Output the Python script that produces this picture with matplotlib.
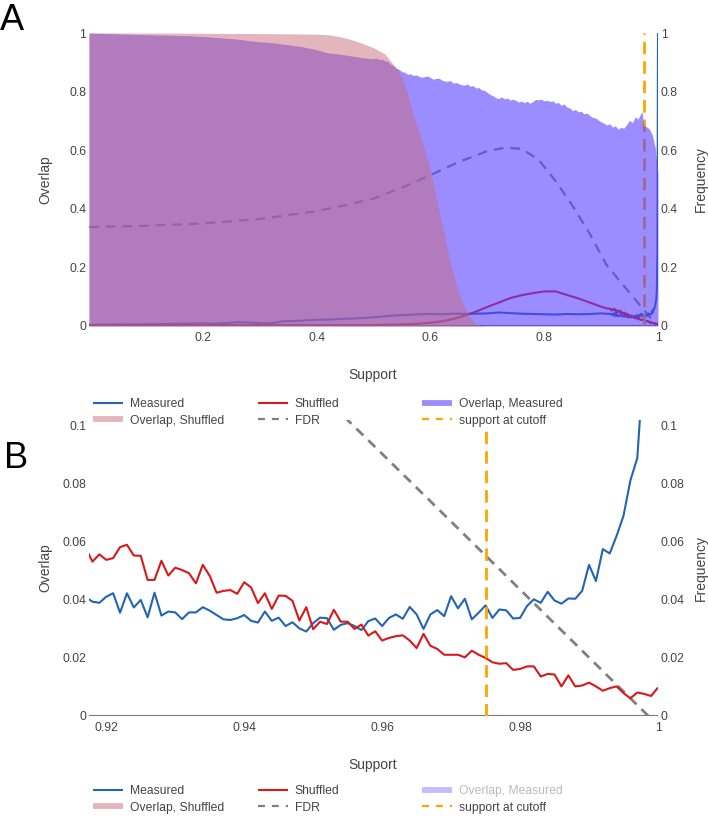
import numpy as np
import matplotlib
matplotlib.use("Agg")
import matplotlib.pyplot as plt
from matplotlib.lines import Line2D

W, H = 708, 818  # output size in pixels (dpi 100)

# ── Colours ────────────────────────────────────────────────────────────────────
C_MEAS = "#2364b4"
C_SHUF = "#d7191c"
C_FDR = "#808080"
C_CUT = "#ffa500"
C_OVM = (88 / 255, 63 / 255, 1.0, 0.6)       # Overlap, Measured fill
C_OVS = (200 / 255, 108 / 255, 125 / 255, 0.5)  # Overlap, Shuffled fill
TXT = "#444444"

# ── Data ───────────────────────────────────────────────────────────────────────
CUTOFF = 0.975

# coarse part of the overlap curves (support 0 .. 0.91)
support_coarse = [round(0.02 * i, 2) for i in range(46)] + [0.91]
measured_coarse = [
    0.004, 0.005, 0.005, 0.006, 0.005, 0.006, 0.006, 0.007, 0.008, 0.008,
    0.009, 0.008, 0.010, 0.013, 0.012, 0.010, 0.009, 0.016, 0.017, 0.019,
    0.021, 0.022, 0.024, 0.025, 0.027, 0.030, 0.033, 0.036, 0.038, 0.040,
    0.041, 0.040, 0.042, 0.041, 0.042, 0.043, 0.046, 0.044, 0.042, 0.041,
    0.040, 0.039, 0.041, 0.040, 0.041, 0.043, 0.042,
]
shuffled_coarse = [
    0.003, 0.003, 0.003, 0.003, 0.003, 0.003, 0.003, 0.003, 0.003, 0.003,
    0.003, 0.003, 0.003, 0.003, 0.003, 0.003, 0.003, 0.003, 0.003, 0.003,
    0.003, 0.003, 0.003, 0.003, 0.003, 0.003, 0.004, 0.005, 0.006, 0.008,
    0.011, 0.016, 0.024, 0.035, 0.049, 0.065, 0.080, 0.095, 0.105, 0.112,
    0.118, 0.118, 0.106, 0.094, 0.080, 0.066, 0.060,
]

# fine part (support 0.917 .. 1.000, step 0.001)
support_fine = [round(0.917 + 0.001 * i, 3) for i in range(84)]
measured_fine = [
    0.0410,
    0.0394, 0.0390, 0.0411, 0.0423, 0.0356, 0.0423, 0.0374, 0.0400, 0.0340, 0.0425,
    0.0346, 0.0360, 0.0357, 0.0334, 0.0357, 0.0357, 0.0375, 0.0363, 0.0348, 0.0333,
    0.0331, 0.0337, 0.0348, 0.0328, 0.0322, 0.0360, 0.0328, 0.0339, 0.0310, 0.0323,
    0.0302, 0.0291, 0.0320, 0.0339, 0.0337, 0.0297, 0.0314, 0.0320, 0.0310, 0.0296,
    0.0327, 0.0336, 0.0310, 0.0338, 0.0350, 0.0335, 0.0376, 0.0350, 0.0300, 0.0350,
    0.0365, 0.0344, 0.0413, 0.0371, 0.0404, 0.0333, 0.0356, 0.0381, 0.0338, 0.0367,
    0.0364, 0.0336, 0.0338, 0.0379, 0.0402, 0.0390, 0.0428, 0.0398, 0.0387, 0.0405,
    0.0404, 0.0431, 0.0521, 0.0465, 0.0575, 0.0560, 0.0621, 0.0690, 0.0812, 0.0889,
    0.1250, 0.2500, 1.0000,
]
shuffled_fine = [
    0.0580,
    0.0532, 0.0557, 0.0538, 0.0544, 0.0582, 0.0590, 0.0553, 0.0552, 0.0469, 0.0469,
    0.0535, 0.0484, 0.0511, 0.0503, 0.0492, 0.0457, 0.0521, 0.0483, 0.0425, 0.0431,
    0.0434, 0.0421, 0.0461, 0.0443, 0.0389, 0.0423, 0.0369, 0.0415, 0.0414, 0.0397,
    0.0329, 0.0375, 0.0299, 0.0325, 0.0317, 0.0366, 0.0325, 0.0325, 0.0300, 0.0315,
    0.0277, 0.0292, 0.0260, 0.0269, 0.0275, 0.0278, 0.0260, 0.0234, 0.0283, 0.0242,
    0.0231, 0.0211, 0.0211, 0.0211, 0.0202, 0.0225, 0.0211, 0.0200, 0.0185, 0.0180,
    0.0182, 0.0159, 0.0162, 0.0171, 0.0171, 0.0136, 0.0145, 0.0143, 0.0102, 0.0140,
    0.0102, 0.0105, 0.0115, 0.0102, 0.0087, 0.0096, 0.0102, 0.0079, 0.0061, 0.0081,
    0.0076, 0.0069, 0.0098,
]

support = support_coarse + support_fine
measured = measured_coarse + measured_fine
shuffled = shuffled_coarse + shuffled_fine

# false discovery rate
fdr_support = [0.0, 0.1, 0.2, 0.3, 0.4, 0.45, 0.5, 0.55, 0.6, 0.65, 0.7,
               0.73, 0.76, 0.79, 0.82, 0.85, 0.88, 0.91, 0.94, 0.97, 0.9986]
fdr = [0.338, 0.342, 0.350, 0.365, 0.392, 0.412, 0.435, 0.472, 0.515, 0.560, 0.597,
       0.608, 0.605, 0.568, 0.495, 0.410, 0.315, 0.207, 0.137, 0.067, 0.0]

# frequency of overlap (fills, right axis)
ovm_support = ([round(0.01 * i, 2) for i in range(50)]
               + [round(0.5 + 0.005 * i, 3) for i in range(94)]
               + [0.970, 0.972, 0.975, 0.980, 0.985, 0.990, 0.995, 0.998, 1.0])
overlap_measured = [
    # 0.00 .. 0.49
    1.000, 0.999, 0.999, 0.998, 0.998, 0.997, 0.996, 0.996, 0.995, 0.995,
    0.994, 0.994, 0.993, 0.993, 0.992, 0.992, 0.991, 0.991, 0.990, 0.989,
    0.988, 0.987, 0.985, 0.984, 0.982, 0.981, 0.979, 0.977, 0.974, 0.972,
    0.970, 0.969, 0.967, 0.965, 0.962, 0.960, 0.957, 0.955, 0.951, 0.947,
    0.943, 0.937, 0.932, 0.930, 0.928, 0.925, 0.922, 0.919, 0.916, 0.914,
    # 0.500 .. 0.965 (step 0.005)
    0.912, 0.915, 0.909, 0.911, 0.905, 0.903, 0.893, 0.889, 0.880, 0.876,
    0.868, 0.866, 0.859, 0.861, 0.855, 0.857, 0.852, 0.849, 0.851, 0.853,
    0.848, 0.842, 0.845, 0.846, 0.839, 0.836, 0.835, 0.838, 0.829, 0.831,
    0.827, 0.823, 0.822, 0.826, 0.818, 0.820, 0.812, 0.814, 0.806, 0.804,
    0.797, 0.790, 0.786, 0.779, 0.776, 0.782, 0.775, 0.778, 0.771, 0.774,
    0.770, 0.764, 0.768, 0.762, 0.767, 0.760, 0.766, 0.773, 0.772, 0.774,
    0.768, 0.771, 0.766, 0.769, 0.760, 0.763, 0.753, 0.758, 0.747, 0.744,
    0.735, 0.739, 0.731, 0.733, 0.724, 0.727, 0.718, 0.712, 0.710, 0.703,
    0.697, 0.692, 0.686, 0.690, 0.679, 0.683, 0.672, 0.678, 0.675, 0.688,
    0.702, 0.694, 0.714, 0.706,
    # 0.970 .. 1.000
    0.726, 0.730, 0.684, 0.680, 0.672, 0.652, 0.610, 0.550, 0.520,
]
ovs_support = [0.0, 0.1, 0.2, 0.3, 0.36, 0.40, 0.42, 0.44, 0.46, 0.48, 0.50,
               0.52, 0.54, 0.55, 0.56, 0.57, 0.58, 0.59, 0.60, 0.61, 0.62,
               0.63, 0.64, 0.65, 0.66, 0.67, 0.68, 0.69, 0.70, 1.0]
overlap_shuffled = [1.0, 1.0, 0.999, 0.998, 0.997, 0.996, 0.994, 0.988, 0.978, 0.965,
                    0.950, 0.928, 0.880, 0.850, 0.790, 0.720, 0.660, 0.600, 0.530,
                    0.440, 0.350, 0.260, 0.180, 0.110, 0.065, 0.030, 0.006, 0.001,
                    0.0, 0.0]

A_XTICKS = [0.2, 0.4, 0.6, 0.8, 1.0]
A_XLABELS = ["0.2", "0.4", "0.6", "0.8", "1"]
A_YTICKS = [0, 0.2, 0.4, 0.6, 0.8, 1.0]
A_YLABELS = ["0", "0.2", "0.4", "0.6", "0.8", "1"]
B_XTICKS = [0.92, 0.94, 0.96, 0.98, 1.0]
B_XLABELS = ["0.92", "0.94", "0.96", "0.98", "1"]
B_YTICKS = [0, 0.02, 0.04, 0.06, 0.08, 0.1]
B_YLABELS = ["0", "0.02", "0.04", "0.06", "0.08", "0.1"]

# ── Style ──────────────────────────────────────────────────────────────────────
plt.rcParams.update({
    "font.family": ["Liberation Sans", "DejaVu Sans"],
    "lines.scale_dashes": False,
    "lines.solid_capstyle": "butt",
})
FS_TICK = 8.7
FS_TITLE = 10
DASH_FDR = (0, (7, 5))
DASH_CUT = (0, (9, 5))


def fx(px):
    return px / W


def fy(py):
    return 1 - py / H


def style_axes(ax, ax2, xticks, xlabels, yticks, ylabels):
    for a in (ax, ax2):
        for s in a.spines.values():
            s.set_visible(False)
        a.set_yticks(yticks)
        a.set_yticklabels(ylabels)
    ax.set_xticks(xticks)
    ax.set_xticklabels(xlabels)
    ax.tick_params(axis="x", length=0, pad=4, labelsize=FS_TICK, labelcolor=TXT)
    ax.tick_params(axis="y", length=0, pad=2, labelsize=FS_TICK, labelcolor=TXT)
    ax2.tick_params(axis="y", length=0, pad=2, labelsize=FS_TICK, labelcolor=TXT)
    ax2.set_ylim(ax.get_ylim())
    ax.axhline(0, color="#777777", lw=1.5, zorder=0)


def column_legend(handles, labels, x_px, y_px):
    return fig.legend(
        handles, labels, loc="upper left",
        bbox_to_anchor=(fx(x_px), fy(y_px)),
        frameon=False, borderpad=0, borderaxespad=0,
        handlelength=2.5, handletextpad=0.55, labelspacing=0.38,
        fontsize=FS_TICK, labelcolor=TXT,
    )


fig = plt.figure(figsize=(W / 100, H / 100), dpi=100)

# ── Panel A ────────────────────────────────────────────────────────────────────
axA = fig.add_axes([fx(89), fy(326), fx(658) - fx(89), fy(33) - fy(326)])
axA.set_xlim(0, 1)
axA.set_ylim(0, 1)
axA2 = axA.twinx()
axA2.set_ylim(0, 1)

axA.plot(fdr_support, fdr, color=C_FDR, lw=1.6, linestyle=DASH_FDR)
axA.plot(support, measured, color=C_MEAS, lw=1.5)
axA.plot(support, shuffled, color=C_SHUF, lw=1.5)
axA.plot([CUTOFF, CUTOFF], [0, 1], color=C_CUT, lw=2, linestyle=DASH_CUT)

# fills sit on the twin axis, drawn above the lines
axA2.fill_between(ovm_support, 0, overlap_measured, color=C_OVM, lw=0)
axA2.fill_between(ovs_support, 0, overlap_shuffled, color=C_OVS, lw=0)

style_axes(axA, axA2, A_XTICKS, A_XLABELS, A_YTICKS, A_YLABELS)

# ── Panel B ────────────────────────────────────────────────────────────────────
axB = fig.add_axes([fx(89), fy(716), fx(658) - fx(89), fy(420) - fy(716)])
axB.set_xlim(0.9175, 1.0)
axB.set_ylim(0, 0.102)
axB2 = axB.twinx()

axB.plot(fdr_support, fdr, color=C_FDR, lw=2, linestyle=DASH_FDR)
axB.plot(support, measured, color=C_MEAS, lw=1.5)
axB.plot(support, shuffled, color=C_SHUF, lw=1.5)
axB.plot([CUTOFF, CUTOFF], [0, 0.1], color=C_CUT, lw=2, linestyle=DASH_CUT)
axB2.fill_between(ovs_support, 0, overlap_shuffled, color=C_OVS, lw=0)

style_axes(axB, axB2, B_XTICKS, B_XLABELS, B_YTICKS, B_YLABELS)
axB2.set_ylim(0, 0.102)

# ── Axis titles & panel letters ────────────────────────────────────────────────
for top, bottom, sup_y in [(33, 326, 375), (420, 716, 765)]:
    mid = (top + bottom) / 2
    fig.text(fx(45), fy(mid), "Overlap", rotation=90, ha="center", va="center",
             fontsize=FS_TITLE, color=TXT)
    fig.text(fx(701), fy(mid), "Frequency", rotation=90, ha="center", va="center",
             fontsize=FS_TITLE, color=TXT)
    fig.text(fx(373), fy(sup_y), "Support", ha="center", va="center",
             fontsize=FS_TITLE, color=TXT)

fig.text(fx(0), fy(30), "A", fontsize=26, color="black", ha="left", va="baseline")
fig.text(fx(4), fy(468), "B", fontsize=26, color="black", ha="left", va="baseline")

# ── Legends ────────────────────────────────────────────────────────────────────
h_meas = Line2D([], [], color=C_MEAS, lw=1.5)
h_shuf = Line2D([], [], color=C_SHUF, lw=1.5)
h_ovm = Line2D([], [], color=C_OVM, lw=4.2)
h_ovs = Line2D([], [], color=C_OVS, lw=4.2)
h_fdr = Line2D([], [], color=C_FDR, lw=1.6, linestyle=(0, (5, 5)))
h_cut = Line2D([], [], color=C_CUT, lw=1.6, linestyle=(0, (5, 5)))
h_ovm_off = Line2D([], [], color=C_OVM, lw=4.2, alpha=0.35)

for row_y, ovm_handle, faded in [(398, h_ovm, False), (785, h_ovm_off, True)]:
    column_legend([h_meas, h_ovs], ["Measured", "Overlap, Shuffled"], 93, row_y)
    column_legend([h_shuf, h_fdr], ["Shuffled", "FDR"], 258, row_y)
    leg = column_legend([ovm_handle, h_cut], ["Overlap, Measured", "support at cutoff"], 422, row_y)
    if faded:
        leg.get_texts()[0].set_color("#bbbbbb")

fig.savefig("out.png", dpi=100)
